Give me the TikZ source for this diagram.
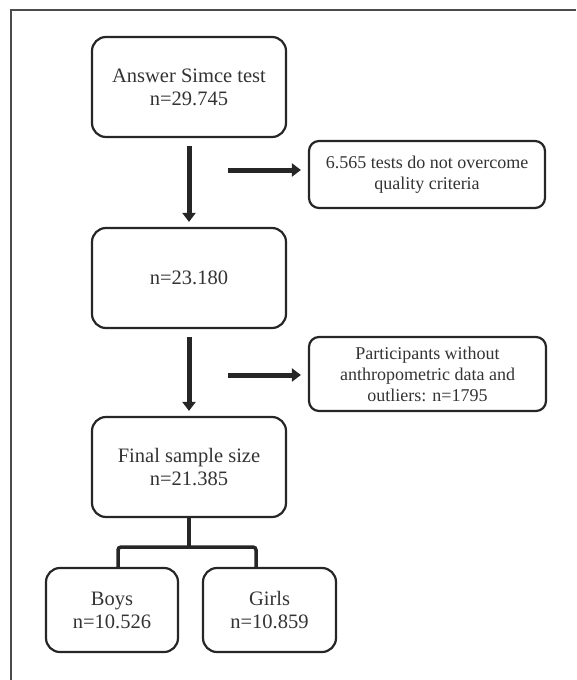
\documentclass[tikz,border=0pt]{standalone}
\usepackage{fontspec}
\setmainfont{Liberation Serif}
\usepackage{tikz}
\usetikzlibrary{arrows.meta,positioning}
\tikzset{box/.style={draw=black!85,line width=2.2pt,rounded corners=14pt,
    align=center,text=black!80,minimum width=194pt,minimum height=100pt,
    font=\fontsize{20.5}{23}\selectfont},
side/.style={box,rounded corners=10pt,font=\fontsize{18}{21}\selectfont},
flow/.style={line width=5pt,black!85,-{Triangle[length=9pt,width=13pt]}},
tree/.style={line width=3.5pt,black!85,rounded corners=3pt}
}

\begin{document}
\begin{tikzpicture}[x=1pt,y=-1pt]
  \useasboundingbox (0,0) rectangle (576,680);
  % frame, cut at right and bottom
  \draw[black!70,line width=2pt] (576,10) -- (11,10) -- (11,680);

  \node[box]  (ans)   at (189,87)    {Answer Simce test\\n=29.745};
  \node[box]  (n1)    at (189,278)   {n=23.180};
  \node[box]  (fin)   at (189,467)   {Final sample size\\n=21.385};
  \node[box,minimum width=132pt,minimum height=84pt] (boys)  at (112,610) {Boys\\n=10.526};
  \node[box,minimum width=133pt,minimum height=84pt] (girls) at (269.5,610) {Girls\\n=10.859};
  \node[side,minimum width=236pt,minimum height=67pt] (qual) at (427,174.5)
      {6.565 tests do not overcome\\quality criteria};
  \node[side,minimum width=237pt,minimum height=74pt] (outl) at (427.5,374)
      {Participants without\\anthropometric data and\\outliers: n=1795};

  \coordinate (a1)   at (228,170);
  \coordinate (a2)   at (228,375);
  \coordinate (fork) at (189,547);
  \coordinate (bj)   at (118,568);
  \coordinate (gj)   at (256,568);

  \draw[flow,shorten <=8pt,shorten >=5pt] (ans) -- (n1);
  \draw[flow,shorten <=8pt,shorten >=5pt] (n1) -- (fin);
  \draw[flow,shorten >=7pt] (a1) -- (a1 -| qual.west);
  \draw[flow,shorten >=7pt] (a2) -- (a2 -| outl.west);

  \draw[tree] (fin.south) -- (fork);
  \draw[tree] (bj) |- (fork) -| (gj);
\end{tikzpicture}
\end{document}
